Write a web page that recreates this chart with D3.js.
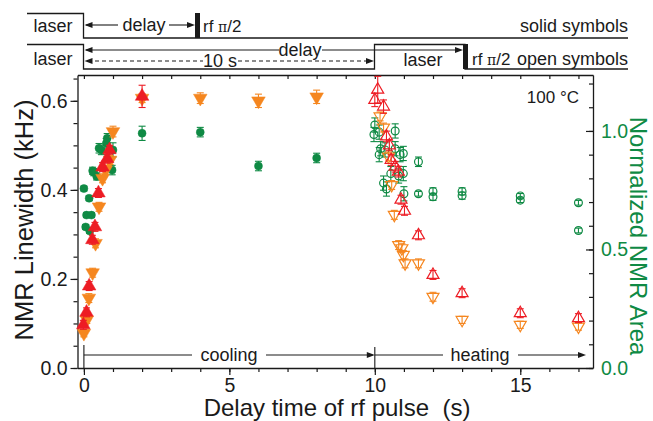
<!DOCTYPE html>
<html><head><meta charset="utf-8">
<script src="https://cdn.jsdelivr.net/npm/d3@7"></script>
<style>body{margin:0;background:#fff} svg text{font-family:"Liberation Sans",Arial,sans-serif}</style>
</head><body><svg id="c" width="653" height="421"></svg>
<script>
// ---------------- data ----------------
const xMajorTicks = [0, 5, 10, 15];
const yLeftTicks = [0.0, 0.2, 0.4, 0.6];
const yRightTicks = [0.0, 0.5, 1.0];
// [delay time (s), value, error]
// solid symbols (cooling)
const solidRed = [[-0.02,0.097,0.01],[0.09,0.125,0.01],[0.18,0.184,0.01],[0.29,0.288,0.01],[0.38,0.317,0.01],[0.5,0.393,0.01],[0.64,0.451,0.01],[0.8,0.47,0.01],[0.88,0.49,0.01],[2.0,0.61,0.025]];
const solidOrange = [[0.0,0.078,0.008],[0.1,0.108,0.008],[0.17,0.157,0.01],[0.3,0.214,0.01],[0.4,0.28,0.01],[0.52,0.362,0.01],[0.64,0.426,0.01],[0.75,0.445,0.01],[0.9,0.467,0.01],[1.0,0.531,0.012],[2.0,0.606,0.01],[4.0,0.606,0.012],[6.0,0.600,0.015],[8.0,0.609,0.015]];
const solidGreen = [[0.0,0.757,0.01],[0.06,0.595,0.01],[0.09,0.645,0.01],[0.18,0.716,0.01],[0.2,0.578,0.01],[0.26,0.645,0.01],[0.3,0.832,0.015],[0.34,0.826,0.015],[0.44,0.808,0.015],[0.52,0.927,0.02],[0.6,0.92,0.02],[0.77,0.948,0.02],[0.8,0.969,0.02],[0.97,0.835,0.02],[1.0,0.92,0.03],[2.0,0.99,0.03],[4.0,0.995,0.02],[6.0,0.852,0.02],[8.0,0.886,0.02]];
// open symbols (heating)
const openRed = [[10.0,0.602,0.015],[10.1,0.625,0.03],[10.3,0.587,0.015],[10.4,0.52,0.012],[10.5,0.50,0.012],[10.56,0.467,0.012],[10.7,0.452,0.012],[10.81,0.441,0.012],[10.9,0.378,0.01],[11.02,0.353,0.01],[11.5,0.298,0.01],[12.0,0.209,0.01],[13.0,0.168,0.01],[15.0,0.123,0.01],[17.0,0.112,0.01]];
const openOrange = [[10.18,0.565,0.01],[10.3,0.54,0.01],[10.47,0.475,0.01],[10.58,0.411,0.01],[10.67,0.344,0.01],[10.82,0.276,0.01],[10.93,0.269,0.01],[10.98,0.254,0.01],[11.04,0.235,0.01],[11.5,0.235,0.01],[12.0,0.16,0.01],[13.0,0.108,0.008],[15.0,0.097,0.008],[17.0,0.093,0.008]];
const openGreen = [[10.0,1.025,0.03],[9.97,0.985,0.03],[10.15,0.995,0.03],[10.7,1.0,0.03],[10.2,0.925,0.03],[10.15,0.9,0.03],[10.35,0.92,0.03],[10.7,0.925,0.03],[10.87,0.9,0.03],[10.98,0.905,0.03],[10.3,0.78,0.03],[10.4,0.755,0.03],[10.55,0.82,0.03],[10.82,0.81,0.03],[10.98,0.82,0.03],[11.0,0.735,0.03],[11.5,0.87,0.02],[11.5,0.735,0.01],[12.0,0.745,0.015],[12.0,0.722,0.015],[13.0,0.745,0.015],[13.0,0.727,0.015],[15.0,0.726,0.01],[15.0,0.708,0.01],[17.0,0.697,0.01],[17.0,0.58,0.01]];

const RED = "#ed1c24", ORANGE = "#f5861f", GREEN = "#0f8a44", INK = "#1a1a1a";

// ---------------- scales ----------------
const svg = d3.select("#c");
const L = 77.5, R = 593, T = 75, B = 368;
const x = d3.scaleLinear().domain([-0.22, 17.5]).range([L, R]);
const yL = d3.scaleLinear().domain([0, 0.658]).range([B, T]);
const yR = d3.scaleLinear().domain([0, 1.236]).range([B, T]);

// ---------------- frame & axes ----------------
function styleAxis(g, size) {
  g.selectAll("path.domain").attr("stroke", INK).attr("stroke-width", 1.3);
  g.selectAll(".tick line").attr("stroke", INK).attr("stroke-width", 1.2);
  g.selectAll("text").attr("font-size", size).attr("fill", INK);
}
svg.append("g").attr("transform", `translate(0,${B})`)
  .call(d3.axisBottom(x).tickValues(d3.range(0, 18, 1)).tickSize(4).tickSizeOuter(0).tickFormat(""))
  .call(g => styleAxis(g, 19));
svg.append("g").attr("transform", `translate(0,${B})`)
  .call(d3.axisBottom(x).tickValues(xMajorTicks).tickSize(7).tickSizeOuter(0).tickPadding(3).tickFormat(d3.format("d")))
  .call(g => { styleAxis(g, 19.5); g.select("path.domain").remove(); });
svg.append("g").attr("transform", `translate(0,${T})`)
  .call(d3.axisBottom(x).tickValues(d3.range(0, 18, 1)).tickSize(4).tickSizeOuter(0).tickFormat(""))
  .call(g => styleAxis(g, 19));
svg.append("g").attr("transform", `translate(${L},0)`)
  .call(d3.axisLeft(yL).tickValues(d3.range(0, 0.651, 0.05)).tickSize(4).tickSizeOuter(0).tickFormat(""))
  .call(g => styleAxis(g, 19));
svg.append("g").attr("transform", `translate(${L},0)`)
  .call(d3.axisLeft(yL).tickValues(yLeftTicks).tickSize(7).tickSizeOuter(0).tickPadding(3).tickFormat(d3.format(".1f")))
  .call(g => { styleAxis(g, 19.5); g.select("path.domain").remove(); });
svg.append("g").attr("transform", `translate(${R},0)`)
  .call(d3.axisRight(yR).tickValues(d3.range(0, 1.201, 0.1)).tickSizeInner(-4).tickSizeOuter(0).tickFormat(""))
  .call(g => styleAxis(g, 19));
svg.append("g").attr("transform", `translate(${R},0)`)
  .call(d3.axisRight(yR).tickValues(yRightTicks).tickSizeInner(-7).tickSizeOuter(0).tickPadding(8).tickFormat(d3.format(".1f")))
  .call(g => { styleAxis(g, 19.5); g.select("path.domain").remove(); g.selectAll("text").attr("fill", GREEN); });

// axis titles
svg.append("text").attr("transform", `translate(33,220) rotate(-90)`).attr("text-anchor", "middle")
  .attr("font-size", 25.5).attr("fill", INK).text("NMR Linewidth (kHz)");
svg.append("text").attr("transform", `translate(630,236) rotate(90)`).attr("text-anchor", "middle")
  .attr("font-size", 24).attr("fill", GREEN).text("Normalized NMR Area");
svg.append("text").attr("x", 337).attr("y", 416).attr("text-anchor", "middle")
  .attr("font-size", 24).attr("fill", INK).text("Delay time of rf pulse\u00a0 (s)");
svg.append("text").attr("x", 579).attr("y", 103).attr("text-anchor", "end")
  .attr("font-size", 17).attr("fill", INK).text("100 °C");

// ---------------- arrows helper ----------------
function arrowHead(x0, y0, dir) {
  const l = 8, w = 3;
  svg.append("path").attr("d", `M${x0},${y0} L${x0 - dir * l},${y0 - w} L${x0 - dir * l},${y0 + w} Z`).attr("fill", INK);
}
function hline(x1, x2, y, dash) {
  svg.append("line").attr("x1", x1).attr("x2", x2).attr("y1", y).attr("y2", y)
    .attr("stroke", INK).attr("stroke-width", 1.1).attr("stroke-dasharray", dash || null);
}

// cooling / heating annotation
const yArr = 355;
svg.append("line").attr("x1", x(0)).attr("x2", x(0)).attr("y1", 345).attr("y2", B).attr("stroke", INK).attr("stroke-width", 1.1);
svg.append("line").attr("x1", x(10)).attr("x2", x(10)).attr("y1", 347).attr("y2", B).attr("stroke", INK).attr("stroke-width", 1.1);
hline(x(0), 192, yArr); hline(266, x(10) - 2, yArr); arrowHead(x(10), yArr, 1);
svg.append("text").attr("x", 229).attr("y", yArr + 6).attr("text-anchor", "middle").attr("font-size", 18).attr("fill", INK).text("cooling");
hline(x(10), 443, yArr); hline(518, 582, yArr); arrowHead(586, yArr, 1);
svg.append("text").attr("x", 480).attr("y", yArr + 6).attr("text-anchor", "middle").attr("font-size", 18).attr("fill", INK).text("heating");

// ---------------- pulse diagram ----------------
const lw = 1.3;
svg.append("path").attr("d", "M27,13.5 H83.5 V38 H628").attr("fill", "none").attr("stroke", INK).attr("stroke-width", lw);
svg.append("rect").attr("x", 195).attr("y", 13).attr("width", 5).attr("height", 25).attr("fill", INK);
svg.append("path").attr("d", "M27,44.5 H83.5 V69 H374.5 V44.5 H465 V69 H628").attr("fill", "none").attr("stroke", INK).attr("stroke-width", lw);
svg.append("rect").attr("x", 463).attr("y", 44).attr("width", 5).attr("height", 25).attr("fill", INK);
hline(86, 118, 25); arrowHead(84.5, 25, -1); hline(169, 188, 25); arrowHead(195, 25, 1);
svg.append("text").attr("x", 144).attr("y", 31).attr("text-anchor", "middle").attr("font-size", 18).attr("fill", INK).text("delay");
hline(86, 279, 50); arrowHead(84.5, 50, -1); hline(322, 456, 50); arrowHead(463, 50, 1);
svg.append("text").attr("x", 300).attr("y", 56).attr("text-anchor", "middle").attr("font-size", 18).attr("fill", INK).text("delay");
hline(88, 203, 61, "4,3"); arrowHead(84.5, 61, -1); hline(238, 368, 61, "4,3"); arrowHead(374, 61, 1);
svg.append("text").attr("x", 220).attr("y", 67).attr("text-anchor", "middle").attr("font-size", 18).attr("fill", INK).text("10 s");
const lab = (tx, ty, s, anchor, fs) => svg.append("text").attr("x", tx).attr("y", ty).attr("text-anchor", anchor || "start").attr("font-size", fs || 18).attr("fill", INK).text(s);
function rfLabel(tx, ty) {
  const t = svg.append("text").attr("x", tx).attr("y", ty).attr("font-size", 17).attr("fill", INK);
  t.append("tspan").text("rf ");
  t.append("tspan").attr("font-family", "DejaVu Serif").attr("font-size", 14).text("π");
  t.append("tspan").text("/2");
}
lab(53, 32, "laser", "middle"); rfLabel(203, 32); lab(628, 32, "solid symbols", "end");
lab(53, 65, "laser", "middle"); lab(423, 66, "laser", "middle"); rfLabel(472, 65); lab(628, 65, "open symbols", "end");

// ---------------- data marks ----------------
const plot = svg.append("g");
function errBars(data, ys, color, sw) {
  const g = plot.append("g").attr("stroke", color).attr("stroke-width", sw || 1.1);
  data.forEach(d => {
    const cx = x(d[0]), y1 = ys(d[1] - d[2]), y2 = ys(d[1] + d[2]);
    g.append("line").attr("x1", cx).attr("x2", cx).attr("y1", y1).attr("y2", y2);
    g.append("line").attr("x1", cx - 3.5).attr("x2", cx + 3.5).attr("y1", y1).attr("y2", y1);
    g.append("line").attr("x1", cx - 3.5).attr("x2", cx + 3.5).attr("y1", y2).attr("y2", y2);
  });
}
function marks(data, ys, type, size, color, filled, rot) {
  const sym = d3.symbol().type(type).size(size);
  plot.append("g").selectAll("path").data(data).join("path")
    .attr("d", sym)
    .attr("transform", d => `translate(${x(d[0])},${ys(d[1])}) rotate(${rot || 0})`)
    .attr("fill", filled ? color : "none")
    .attr("stroke", color).attr("stroke-width", filled ? 0.5 : 1.2);
}
errBars(openGreen, yR, GREEN); marks(openGreen, yR, d3.symbolCircle, 48, GREEN, false);
errBars(openOrange, yL, ORANGE); marks(openOrange, yL, d3.symbolTriangle, 62, ORANGE, false, 180);
errBars(openRed, yL, RED); marks(openRed, yL, d3.symbolTriangle, 62, RED, false);
errBars(solidGreen, yR, GREEN); marks(solidGreen, yR, d3.symbolCircle, 50, GREEN, true);
errBars(solidOrange, yL, ORANGE); marks(solidOrange, yL, d3.symbolTriangle, 80, ORANGE, true, 180);
errBars(solidRed, yL, RED); marks(solidRed, yL, d3.symbolTriangle, 80, RED, true);
</script></body></html>
